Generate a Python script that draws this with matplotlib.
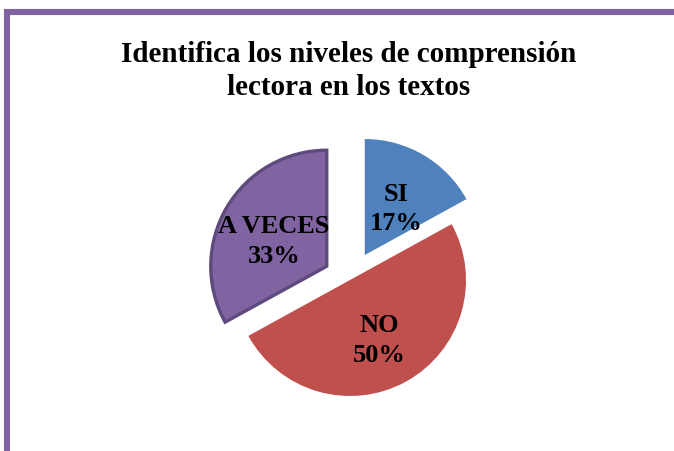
import matplotlib
matplotlib.use("Agg")
import matplotlib.pyplot as plt
from matplotlib.patches import Rectangle

categories = ["SI", "NO", "A VECES"]
values = [17, 50, 33]
colors = ["#4F81BD", "#C0504D", "#8064A2"]
explode_px = [29, 0, 27]
title = "Identifica los niveles de comprensión\nlectora en los textos"

W, H = 674, 452
R = 116.0
cx, cy = 350, 281

fig = plt.figure(figsize=(W / 100, H / 100), dpi=100)
fig.patch.set_facecolor("white")

# border (purple, top & left)
border = Rectangle((7 / W, -0.1), 1.2, 1.1 - 13 / H, transform=fig.transFigure,
                   fill=False, edgecolor="#8064A2", linewidth=4.4, clip_on=False)
fig.add_artist(border)

ax = fig.add_axes([0, 0, 1, 1])

labels = [f"{c}\n{v}%" for c, v in zip(categories, values)]
wedges, texts = ax.pie(values, labels=labels, colors=colors,
                       explode=[e / R for e in explode_px],
                       startangle=90, counterclock=False, radius=1,
                       labeldistance=0.53,
                       textprops=dict(family="Liberation Serif", fontweight="bold",
                                      fontsize=19, color="black", linespacing=1.38))
for t in texts:
    t.set_ha("center")
    t.set_va("center_baseline")
wedges[2].set_edgecolor("#5E4A7D")
wedges[2].set_linewidth(2.4)

ax.set_aspect("auto")
ax.set_xlim(-cx / R, (W - cx) / R)
ax.set_ylim(-(H - cy) / R, cy / R)
ax.axis("off")

fig.text(349 / W, 1 - 71 / H, title, ha="center", va="center",
         family="Liberation Serif", fontweight="bold", fontsize=21,
         linespacing=1.25)

fig.savefig("out.png", dpi=100)
